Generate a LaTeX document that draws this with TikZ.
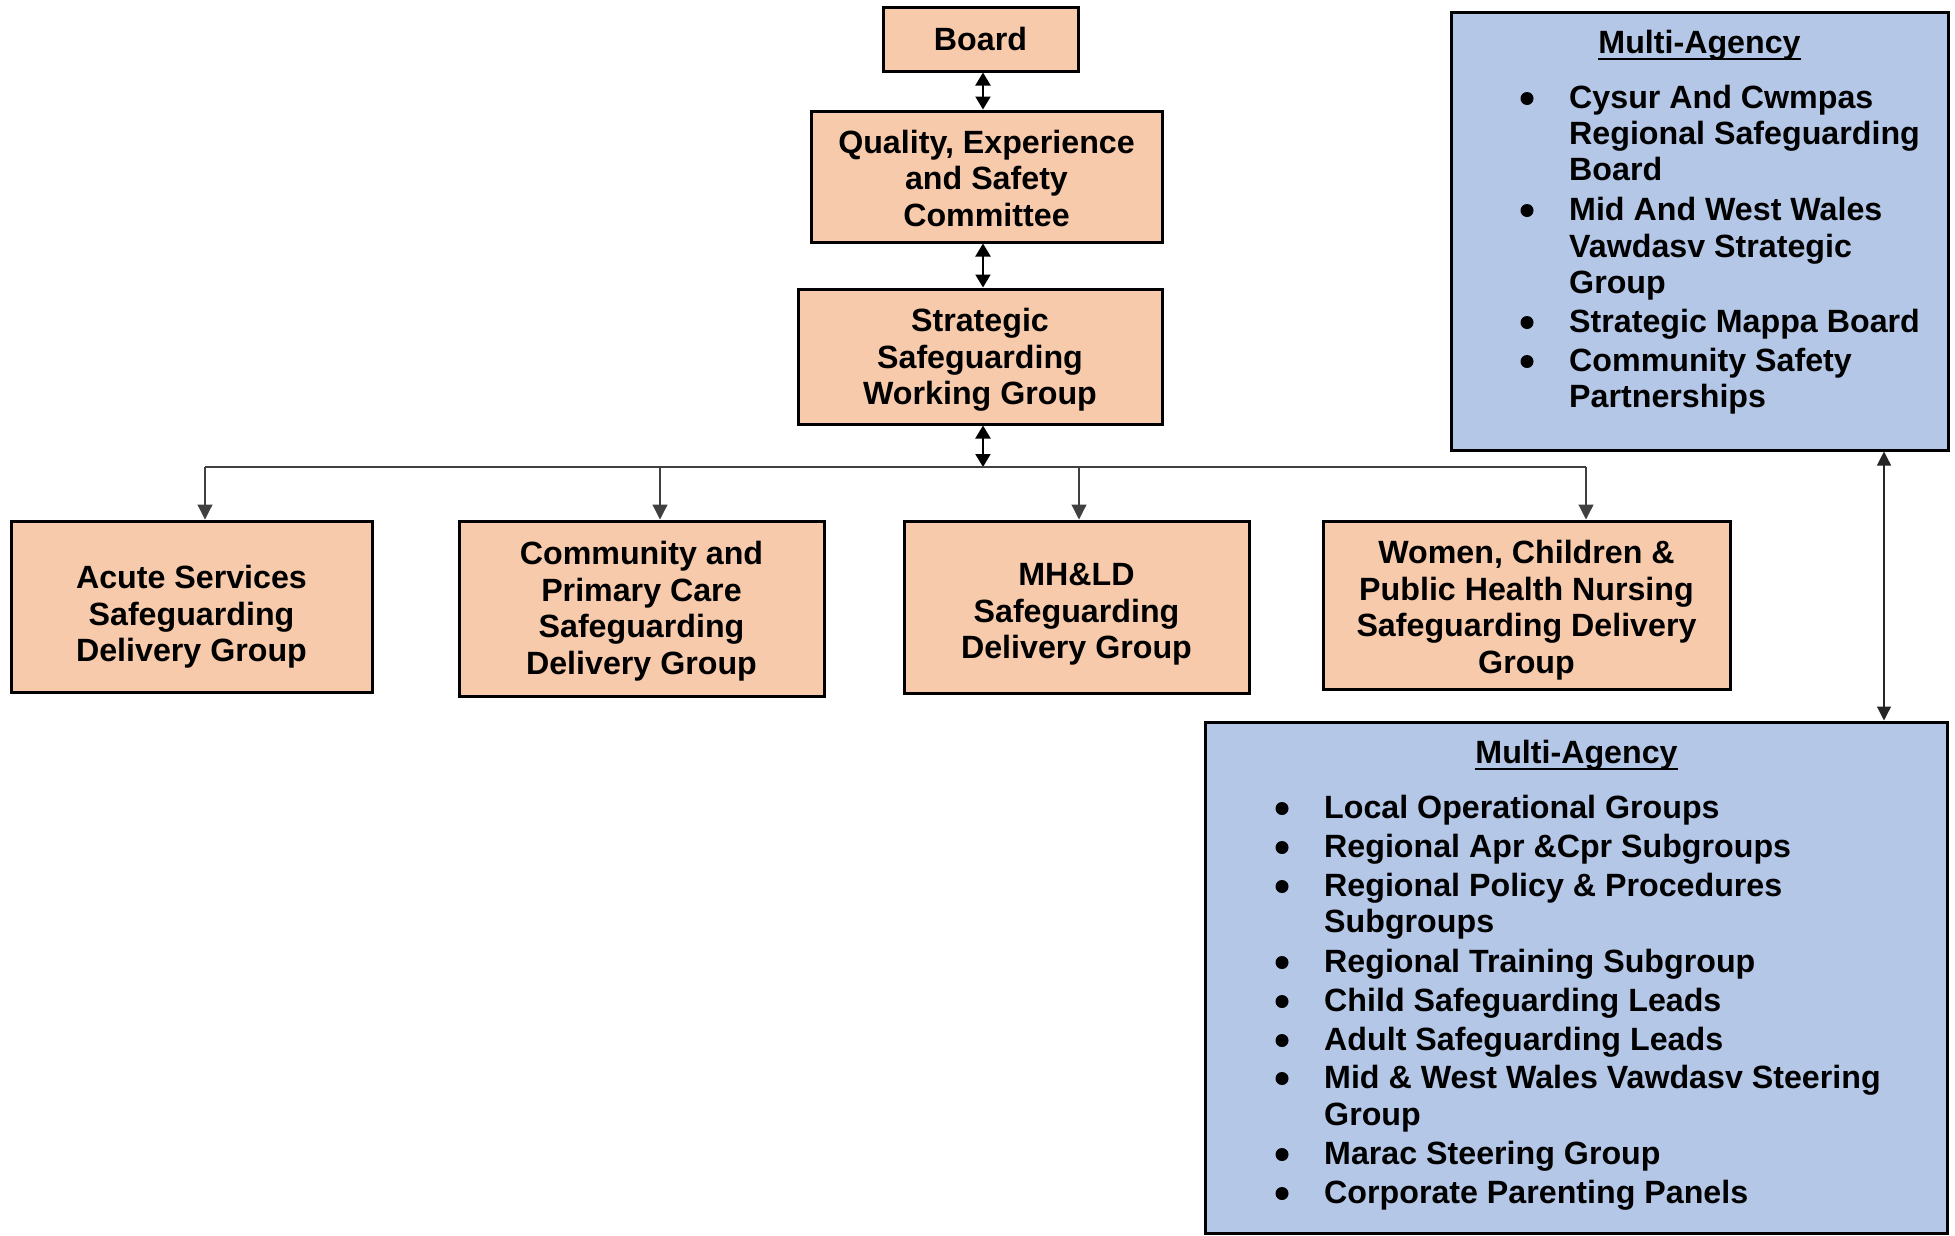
\documentclass[tikz,border=0pt]{standalone}
\usepackage{fontspec}
\setmainfont{Liberation Sans}
\usetikzlibrary{arrows.meta}
\definecolor{orangefill}{HTML}{F7CAAC}
\definecolor{bluefill}{HTML}{B4C7E7}
\newcommand\sdtext[2]{\raisebox{-#1}[\height][\depth]{\begin{tabular}{@{}c@{}}#2\end{tabular}}}
\begin{document}
\begin{tikzpicture}[x=1pt,y=-1pt,
  txt/.style={font=\bfseries\fontsize{32.2}{36.5}\selectfont},
  obox/.style={txt,draw=black,line width=3pt,fill=orangefill,align=center,inner sep=0pt},
  bbox/.style={draw=black,line width=3pt,fill=bluefill,inner sep=0pt},
  itm/.style={txt,anchor=base west,inner sep=0pt},
  ttl/.style={txt,anchor=base,inner sep=0pt},
  dbl/.style={{Triangle[length=13pt,width=15pt]}-{Triangle[length=13pt,width=15pt]},line width=2pt,black},
  dblthin/.style={{Triangle[length=14pt,width=14pt]}-{Triangle[length=14pt,width=14pt]},line width=1.2pt,black!85},
  conn/.style={line width=1.2pt,black!75},
  tree/.style={-{Triangle[length=15pt,width=15pt]},line width=1.2pt,black!75}]
\useasboundingbox (0,0) rectangle (1955,1235);
\fill[white] (0,0) rectangle (1955,1235);

% top chain
\node[obox,minimum width=195pt,minimum height=64pt] (board) at (980.5,39) {Board};
\node[obox,minimum width=351pt,minimum height=131pt] (qes) at (986.5,176.5) {\sdtext{6pt}{Quality, Experience\\and Safety\\Committee}};
\node[obox,minimum width=364pt,minimum height=135pt] (ssw) at (980,356.5) {\sdtext{4.5pt}{Strategic\\Safeguarding\\Working Group}};

% delivery groups
\node[obox,minimum width=361pt,minimum height=171pt] (acute) at (191.5,606.5) {\sdtext{11.5pt}{Acute Services\\Safeguarding\\Delivery Group}};
\node[obox,minimum width=365pt,minimum height=175pt] (comm) at (641.5,608.5) {\sdtext{3.5pt}{Community and\\Primary Care\\Safeguarding\\Delivery Group}};
\node[obox,minimum width=345pt,minimum height=172pt] (mhld) at (1076.5,607) {\sdtext{8pt}{MH\&LD\\Safeguarding\\Delivery Group}};
\node[obox,minimum width=407pt,minimum height=168pt] (women) at (1526.5,605) {\sdtext{6pt}{Women, Children \&\\Public Health Nursing\\Safeguarding Delivery\\Group}};

% multi-agency boxes
\node[bbox,minimum width=497pt,minimum height=438pt] (ma1) at (1699.5,231) {};
\node[bbox,minimum width=742pt,minimum height=511pt] (ma2) at (1576,977.5) {};

\node[ttl] (ma1t) at (1699.5,53) {Multi-Agency};
\draw[line width=2pt] ([yshift=-6pt]ma1t.base west) -- ([yshift=-6pt]ma1t.base east);
\foreach \y/\t/\b [count=\i] in {108/Cysur And Cwmpas/1,144/Regional Safeguarding/0,180/Board/0,220/Mid And West Wales/1,257/Vawdasv Strategic/0,293/Group/0,332/Strategic Mappa Board/1,371/Community Safety/1,407/Partnerships/0}{
  \node[itm] (ma1-\i) at (1569,\y) {\t};
  \ifnum\b=1 \fill (1527,\y-9.5) circle (6.5pt);\fi
}

\node[ttl] (ma2t) at (1576.5,763) {Multi-Agency};
\draw[line width=2pt] ([yshift=-6pt]ma2t.base west) -- ([yshift=-6pt]ma2t.base east);
\foreach \y/\t/\b [count=\i] in {818/Local Operational Groups/1,857/Regional Apr \&Cpr Subgroups/1,896/Regional Policy \& Procedures/1,932/Subgroups/0,972/Regional Training Subgroup/1,1011/Child Safeguarding Leads/1,1050/Adult Safeguarding Leads/1,1088/Mid \& West Wales Vawdasv Steering/1,1125/Group/0,1164/Marac Steering Group/1,1203/Corporate Parenting Panels/1}{
  \node[itm] (ma2-\i) at (1324,\y) {\t};
  \ifnum\b=1 \fill (1282,\y-9.5) circle (6.5pt);\fi
}

% connectors
\coordinate (hub) at (983,467);
\coordinate (j1) at (205,467);
\coordinate (j2) at (660,467);
\coordinate (j3) at (1079,467);
\coordinate (j4) at (1586,467);
\coordinate (mx) at (1884,0);

\draw[dbl] (board.south -| hub) -- (qes.north -| hub);
\draw[dbl] (qes.south -| hub) -- (ssw.north -| hub);
\draw[dbl] (ssw.south -| hub) -- (hub);
\draw[conn] (j1) -- (j4);
\draw[tree] (j1) -- (j1 |- acute.north);
\draw[tree] (j2) -- (j2 |- comm.north);
\draw[tree] (j3) -- (j3 |- mhld.north);
\draw[tree] (j4) -- (j4 |- women.north);
\draw[dblthin] (ma1.south -| mx) -- (ma2.north -| mx);
\end{tikzpicture}
\end{document}
